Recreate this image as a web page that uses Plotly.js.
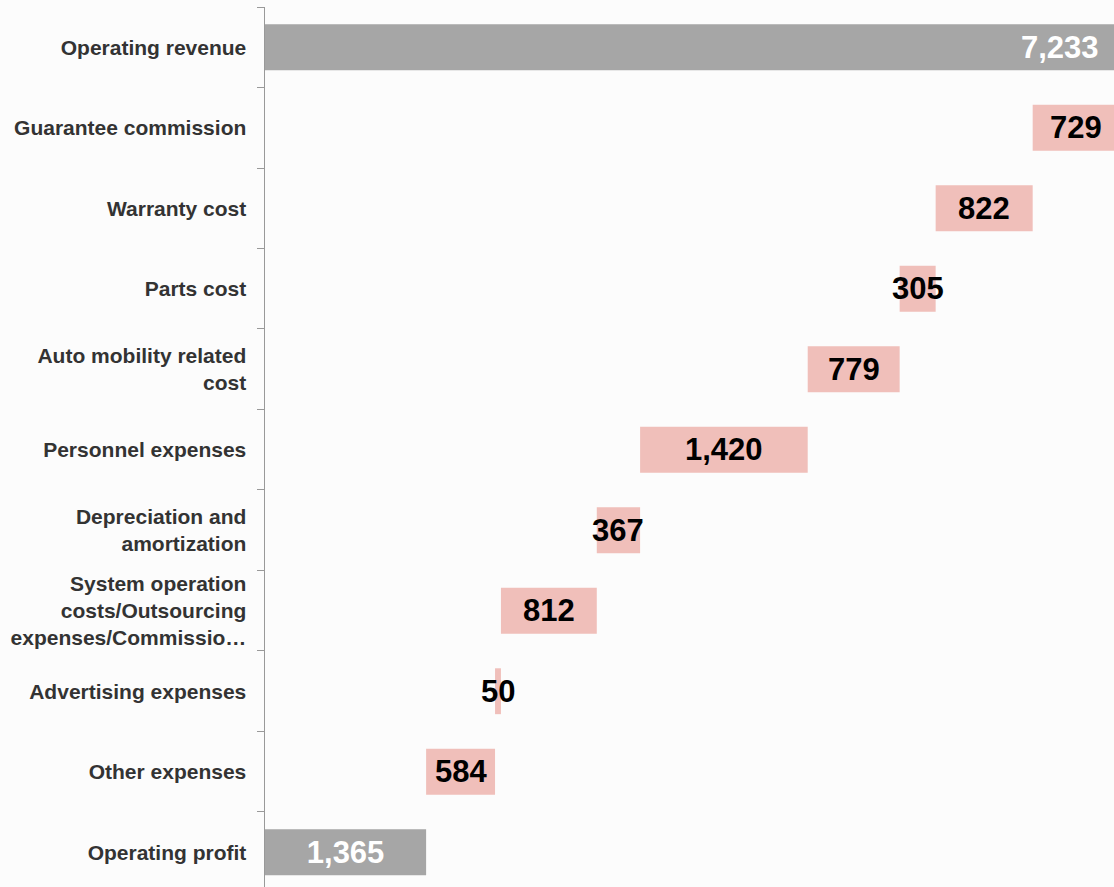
<!DOCTYPE html>
<html>
<head>
<meta charset="utf-8">
<script src="https://cdn.plot.ly/plotly-3.0.1.min.js"></script>
<style>
  html, body { margin: 0; padding: 0; background: #fcfcfc; }
  #chart { width: 1114px; height: 887px; }
</style>
</head>
<body>
<div id="chart"></div>
<script>
// ---- data ----
var categories = [
  'Operating revenue',
  'Guarantee commission',
  'Warranty cost',
  'Parts cost',
  'Auto mobility related<br>cost',
  'Personnel expenses',
  'Depreciation and<br>amortization',
  'System operation<br>costs/Outsourcing<br>expenses/Commissio…',
  'Advertising expenses',
  'Other expenses',
  'Operating profit'
];
var values = [7233, 729, 822, 305, 779, 1420, 367, 812, 50, 584, 1365];
var measures = ['total', 'decrease', 'decrease', 'decrease', 'decrease', 'decrease',
                'decrease', 'decrease', 'decrease', 'decrease', 'total'];

// ---- derived waterfall geometry (from data) ----
var running = values[0];
var deltaCats = [], deltaVals = [], deltaBase = [], deltaText = [];
for (var i = 1; i < categories.length - 1; i++) {
  running -= values[i];
  deltaCats.push(categories[i]);
  deltaVals.push(values[i]);
  deltaBase.push(running);
  deltaText.push(values[i].toLocaleString('en-US'));
}
function fmt(v) { return v.toLocaleString('en-US'); }

var FONT = 'Liberation Sans, Arial, sans-serif';
var GRAY = '#a6a6a6';
var PINK = '#f0bfba';
var BARW = 0.57;
var XMAX = 7193; // visible axis end (revenue bar runs slightly past the edge)

var traces = [
  {
    type: 'bar', orientation: 'h',
    y: [categories[0]], x: [values[0]], base: [0],
    width: BARW,
    marker: { color: GRAY, line: { width: 0 } },
    hoverinfo: 'skip', showlegend: false
  },
  {
    type: 'bar', orientation: 'h',
    y: deltaCats, x: deltaVals, base: deltaBase,
    width: BARW,
    marker: { color: PINK, line: { width: 0 } },
    hoverinfo: 'skip', showlegend: false
  },
  {
    type: 'bar', orientation: 'h',
    y: [categories[categories.length - 1]], x: [values[values.length - 1]], base: [0],
    width: BARW,
    marker: { color: GRAY, line: { width: 0 } },
    text: [fmt(values[values.length - 1])],
    textposition: 'inside',
    insidetextanchor: 'middle',
    constraintext: 'none',
    textangle: 0,
    textfont: { family: FONT, size: 31, color: '#ffffff', weight: 'bold' },
    hoverinfo: 'skip', showlegend: false
  }
];

var annotations = [
  {
    x: 1, xref: 'paper', y: categories[0], yref: 'y',
    text: fmt(values[0]),
    showarrow: false, xanchor: 'right', xshift: -13,
    font: { family: FONT, size: 31, color: '#ffffff', weight: 'bold' }
  }
];
for (var j = 0; j < deltaCats.length; j++) {
  annotations.push({
    x: deltaBase[j] + deltaVals[j] / 2, xref: 'x',
    y: deltaCats[j], yref: 'y',
    text: deltaText[j],
    showarrow: false, xanchor: 'center', yanchor: 'middle',
    font: { family: FONT, size: 31, color: '#000000', weight: 'bold' }
  });
}

var n = categories.length;
var layout = {
  width: 1114, height: 887,
  margin: { l: 265, r: 0, t: 7, b: 0, pad: 0 },
  paper_bgcolor: '#fcfcfc',
  plot_bgcolor: '#fcfcfc',
  barmode: 'overlay',
  showlegend: false,
  font: { family: FONT },
  xaxis: {
    visible: false,
    range: [0, XMAX],
    fixedrange: true
  },
  yaxis: {
    type: 'category',
    categoryorder: 'array',
    categoryarray: categories,
    range: [n - 1 + 0.432, -0.5],
    tickson: 'boundaries',
    ticks: 'outside',
    ticklen: 7,
    tickwidth: 1,
    tickcolor: '#999999',
    showline: true,
    linecolor: '#999999',
    linewidth: 1.5,
    showgrid: false,
    zeroline: false,
    ticklabelstandoff: 13,
    tickfont: { family: FONT, size: 21, color: '#333333', weight: 'bold' },
    fixedrange: true
  },
  annotations: annotations
};

Plotly.newPlot('chart', traces, layout, { displayModeBar: false, staticPlot: true });
</script>
</body>
</html>
